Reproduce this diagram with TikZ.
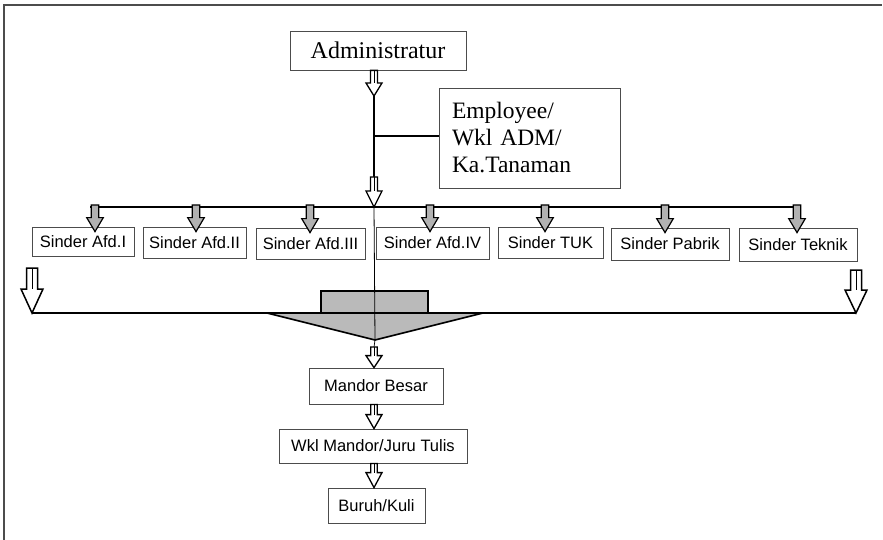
\documentclass[tikz,border=0pt]{standalone}
\usepackage{fontspec}
\setmainfont{Liberation Serif}
\setsansfont{Liberation Sans}
\usetikzlibrary{calc}
% #1 fill/draw style, #2 top point, #3 tip point, #4 half shaft, #5 half head, #6 head length, #7 centre-line style
\newcommand\blockarrow[7]{%
  \draw[#1] let \p1=(#2), \p2=(#3) in
    (\x2-#4pt,\y1) -- (\x2+#4pt,\y1) -- (\x2+#4pt,\y2+#6pt) -- (\x2+#5pt,\y2+#6pt)
    -- (\x2,\y2) -- (\x2-#5pt,\y2+#6pt) -- (\x2-#4pt,\y2+#6pt) -- cycle;
  \draw[#7] let \p1=(#2), \p2=(#3) in (\x2,\y1) -- (\x2,\y2+#6pt);
}
\tikzset{
  serifbox/.style={draw=black!70, line width=0.8pt, inner sep=0pt,
    font=\fontsize{24}{27}\selectfont},
  sinderbox/.style={draw=black!70, line width=0.8pt, inner sep=0pt,
    font=\sffamily\fontsize{16.5}{18}\selectfont},
  mainline/.style={line width=2pt},
  thinline/.style={line width=0.8pt, draw=black},
  hollow/.style={draw=black, fill=white, line width=1.3pt, line join=miter},
  grayarrow/.style={draw=black, fill=black!30, line width=1.2pt, line join=miter},
  midline/.style={line width=0.7pt},
  noline/.style={draw=none},
}
\begin{document}
\begin{tikzpicture}[x=1pt,y=-1pt]
\useasboundingbox (0,0) rectangle (883,540);
% frame
\draw[draw=black!70, line width=1.2pt] (4,540) -- (4,5) -- (882,5);

% top boxes
\node[serifbox, minimum width=176pt, minimum height=39pt] (adm) at (378,50.5) {Administratur};
\node[serifbox, minimum width=181pt, minimum height=100pt, text width=155pt, align=left,
  font=\fontsize{23.5}{27}\selectfont] (emp) at (529.5,138) {Employee/\\Wkl ADM/\\Ka.Tanaman};

% sinder boxes
\node[sinderbox, minimum width=102pt, minimum height=29pt] (s1) at (83,241.5) {Sinder Afd.I};
\node[sinderbox, minimum width=103pt, minimum height=31pt] (s2) at (194.5,242.5) {Sinder Afd.II};
\node[sinderbox, minimum width=109pt, minimum height=31pt] (s3) at (310.5,243.5) {Sinder Afd.III};
\node[sinderbox, minimum width=113pt, minimum height=32pt] (s4) at (432.5,243) {Sinder Afd.IV};
\node[sinderbox, minimum width=105pt, minimum height=31pt] (s5) at (550.5,242.5) {Sinder TUK};
\node[sinderbox, minimum width=118pt, minimum height=32pt] (s6) at (670,244) {Sinder Pabrik};
\node[sinderbox, minimum width=118pt, minimum height=33pt] (s7) at (798,244.5) {Sinder Teknik};

% lower boxes
\node[sinderbox, minimum width=134pt, minimum height=36pt] (mb) at (376,386) {Mandor Besar};
\node[sinderbox, minimum width=188pt, minimum height=34pt] (wk) at (373,446) {Wkl Mandor/Juru Tulis};
\node[sinderbox, minimum width=97pt, minimum height=35pt] (bk) at (376.5,505.5) {Buruh/Kuli};

% coordinates
\coordinate (hub) at (374,207);
\coordinate (barL) at (90,207);
\coordinate (barR) at (797,207);
\coordinate (branch) at (374,136);
\coordinate (a2top) at (374,177);
\coordinate (admtip) at (374,96);
\coordinate (tri) at (375,340);
\coordinate (lineL) at (32,313);
\coordinate (lineR) at (856,313);
\coordinate (bigLtop) at (32,268);
\coordinate (bigRtop) at (856,270);

% main connectors
\draw[mainline] (adm.south -| hub) -- (hub);
\draw[mainline] (branch) -- (branch -| emp.west);
\draw[mainline] (barL) -- (barR);

% hollow arrows at the top
\blockarrow{hollow}{adm.south -| hub}{admtip}{3.5}{8}{13}{midline}
\blockarrow{hollow}{a2top}{hub}{3.5}{8}{16}{midline}

% gray arrows to the sinder boxes
\foreach \bx/\xx in {s1/95, s2/196, s3/310, s4/430, s5/545, s6/665, s7/797}{
  \coordinate (top\bx) at (\xx,205);
  \path (top\bx |- \bx.north) ++(0,5) coordinate (tip\bx);
  \blockarrow{grayarrow}{top\bx}{tip\bx}{3.8}{8.3}{14}{noline}
}

% lower horizontal line with big arrows
\draw[line width=1.5pt] (lineL) -- (lineR);
\blockarrow{hollow, line width=1.5pt}{bigLtop}{lineL}{5.5}{11}{24}{midline}
\blockarrow{hollow, line width=1.5pt}{bigRtop}{lineR}{5.5}{11}{23}{midline}

% gathering arrow shape
\draw[fill=black!27, line width=1.6pt, line join=miter]
  (267,313) -- (321,313) -- (321,291) -- (428,291) -- (428,313) -- (483,313) -- (tri) -- cycle;
\draw[line width=1.2pt] (321,313) -- (428,313);
\draw[thinline] (hub) -- (tri);

% arrows down the lower chain
\coordinate (mbtop) at (374,347);
\blockarrow{hollow}{mbtop}{mb.north -| mbtop}{3.2}{8}{12}{midline}
\blockarrow{hollow}{mb.south -| mbtop}{wk.north -| mbtop}{3.2}{8}{14}{midline}
\blockarrow{hollow}{wk.south -| mbtop}{bk.north -| mbtop}{3.2}{8}{15}{midline}
\draw[midline] (tri) -- (mbtop);
\end{tikzpicture}
\end{document}
